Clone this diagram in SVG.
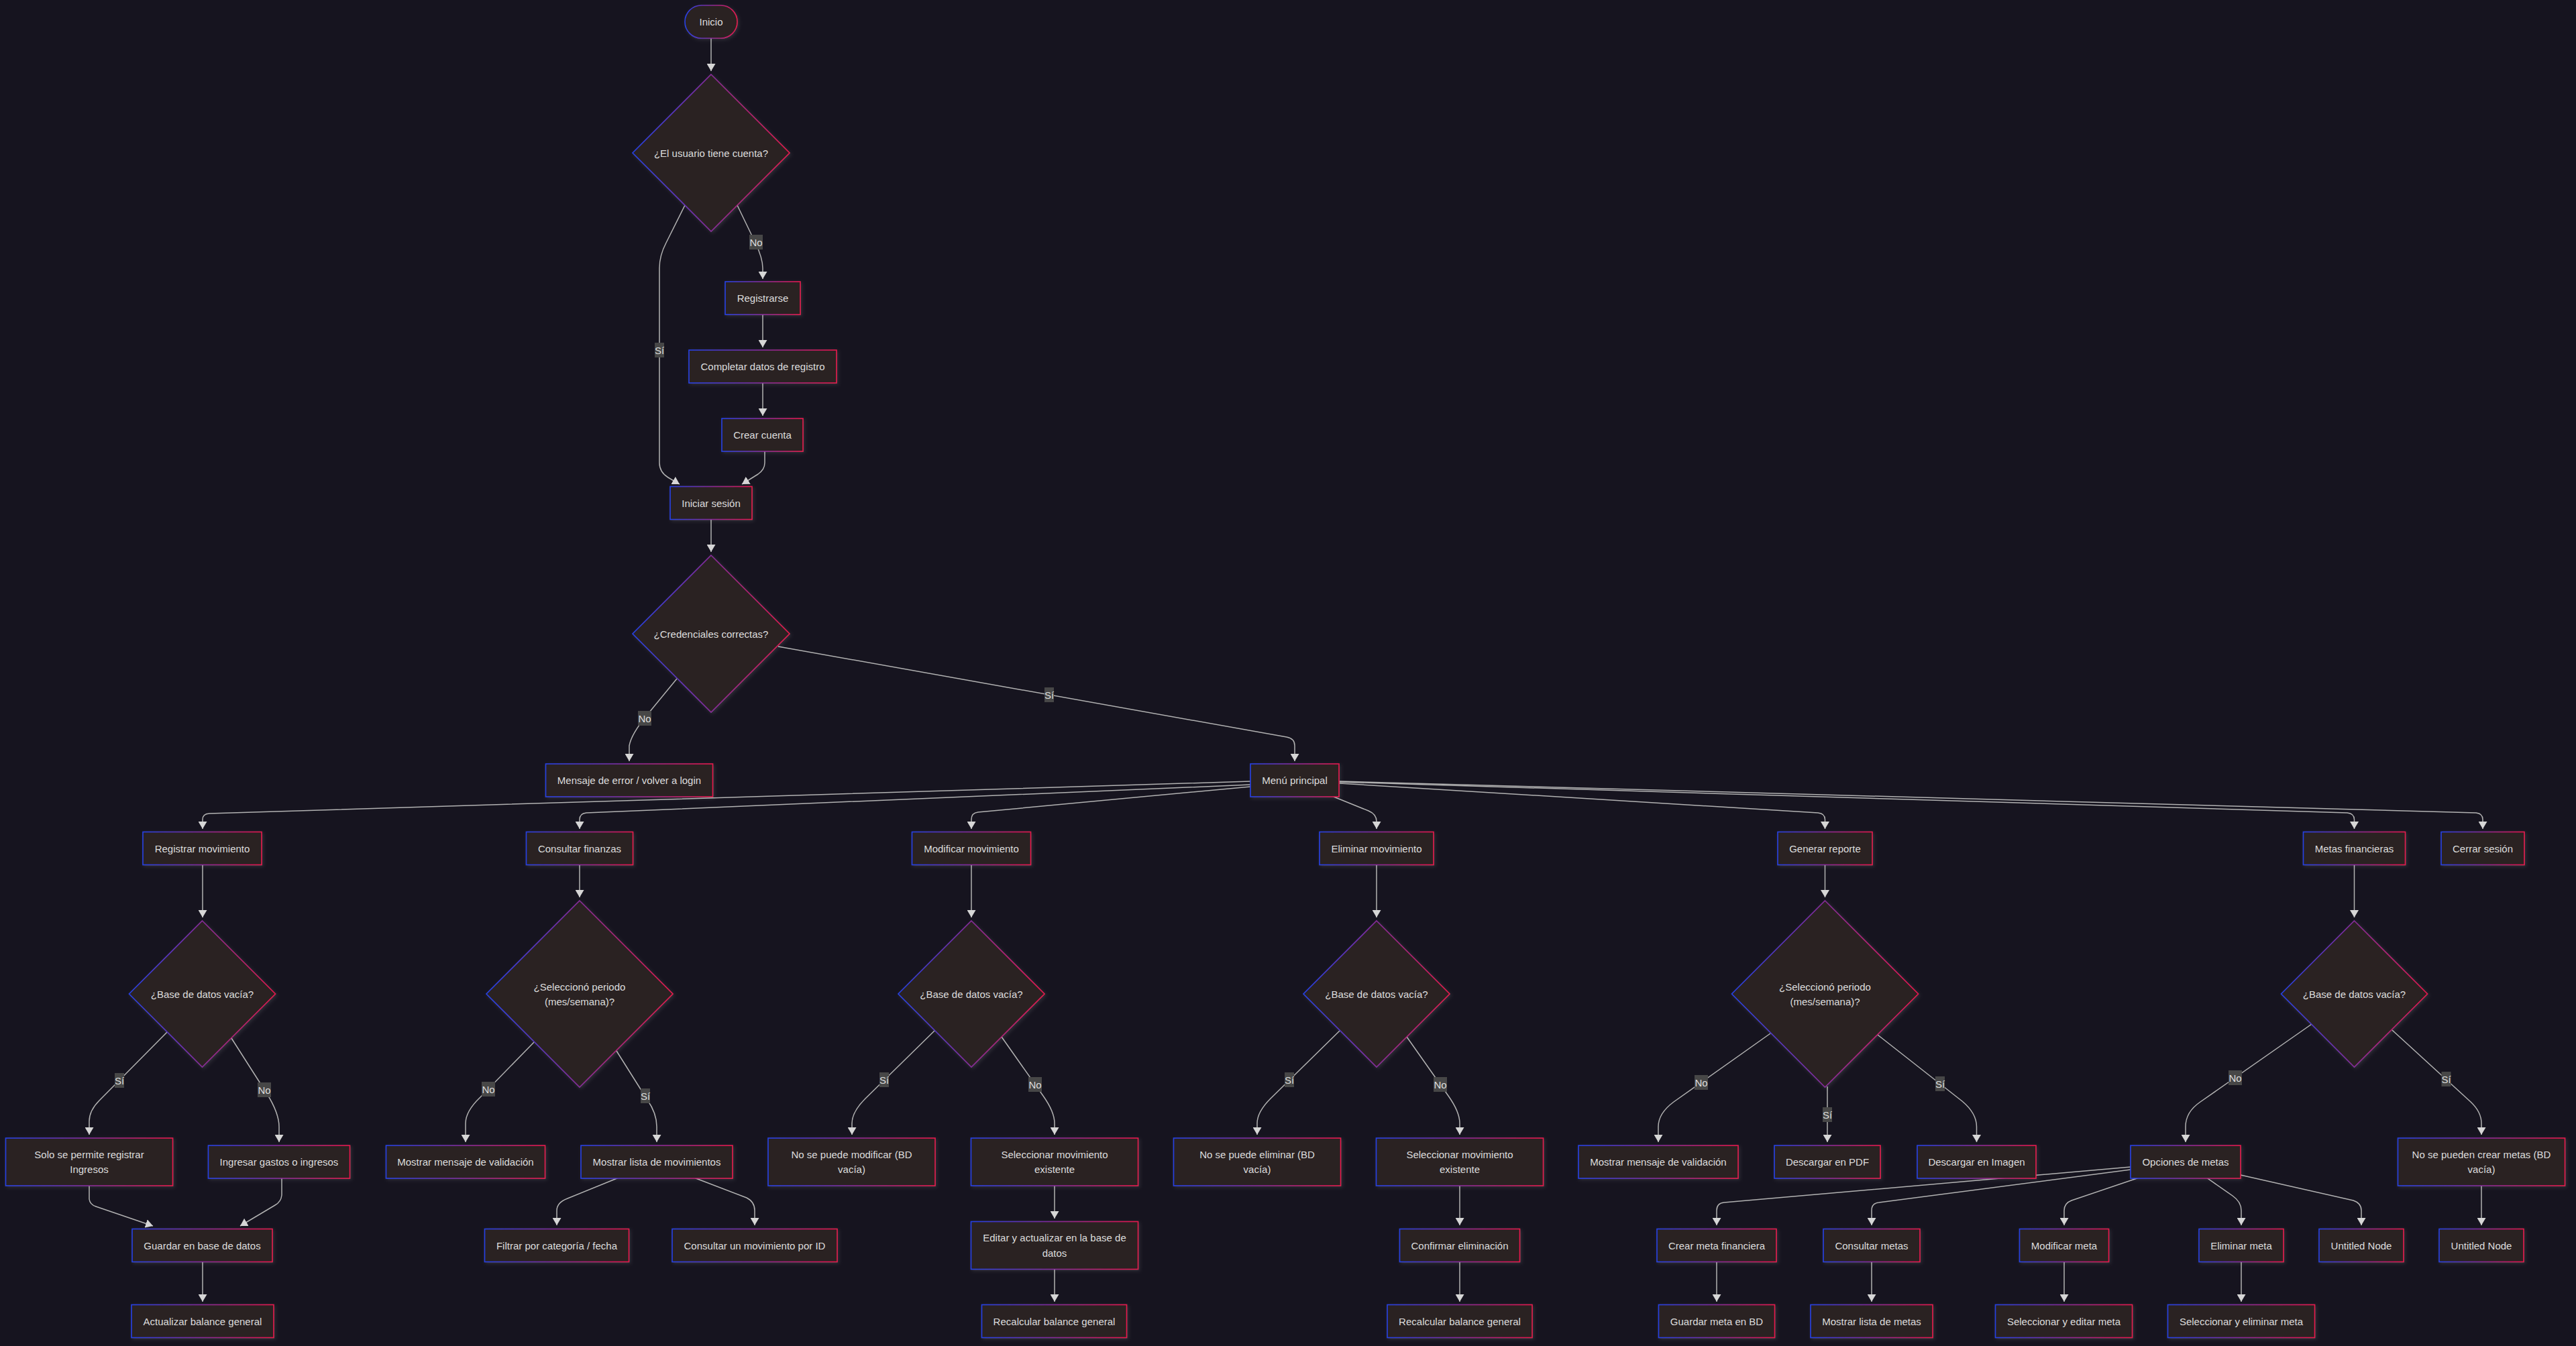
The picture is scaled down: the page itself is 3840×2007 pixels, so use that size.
<svg xmlns="http://www.w3.org/2000/svg" width="3840" height="2007" viewBox="0 0 3840 2007">
<defs>
<linearGradient id="g" x1="0" y1="0" x2="1" y2="0">
<stop offset="0" stop-color="#2340e6"/>
<stop offset="1" stop-color="#e8124c"/>
</linearGradient>
<filter id="sh" x="-10%" y="-10%" width="120%" height="130%">
<feDropShadow dx="2" dy="2" stdDeviation="2.5" flood-color="#ffffff" flood-opacity="0.10"/>
</filter>
<marker id="ah" viewBox="0 0 11 13" refX="11" refY="6.5" markerWidth="11" markerHeight="13" markerUnits="userSpaceOnUse" orient="auto">
<path d="M0,0 L11,6.5 L0,13 z" fill="#d6d6d6"/>
</marker>
<style>
.node rect,.node polygon{fill:#2c2120;stroke:url(#g);stroke-width:1.6;filter:url(#sh)}
.node text{font-family:"Liberation Sans",Arial,sans-serif;font-size:15px;fill:#dddddd;text-anchor:middle;dominant-baseline:central}
.edges path{fill:none;stroke:#b2b2b2;stroke-width:1.5;marker-end:url(#ah)}
.lbl rect{fill:#474747}
.lbl text{font-family:"Liberation Sans",Arial,sans-serif;font-size:15px;fill:#dddddd;text-anchor:middle;dominant-baseline:central}
</style>
</defs>
<rect x="0" y="0" width="3840" height="2007" fill="#16141f"/>

<g id="connectors" class="edges">
<path d="M1060,57 L1060,106"/>
<path d="M1021,306 L993,362 Q983,381 983,400 L983,690 Q983,704 996,712 L1013,722"/>
<path d="M1099,306 L1126,362 Q1137,385 1137,400 L1137,416"/>
<path d="M1137,469 L1137,518"/>
<path d="M1137,571 L1137,620"/>
<path d="M1140,673 L1140,690 Q1140,700 1130,707 L1106,722"/>
<path d="M1060,774 L1060,823"/>
<path d="M1009,1012 L963,1068 Q941,1095 938,1112 L938,1135"/>
<path d="M1160,964 L1918,1099 Q1930,1101 1930,1112 L1930,1135"/>
<path d="M1864,1165 L312,1213 Q302,1213.5 302,1222 L302,1236"/>
<path d="M1864,1170 L874,1212 Q864,1213 864,1222 L864,1236"/>
<path d="M1864,1173 L1458,1211 Q1448,1212 1448,1222 L1448,1236"/>
<path d="M1988,1188 L2040,1209 Q2052,1214 2052,1225 L2052,1236"/>
<path d="M1997,1168 L2710,1212 Q2720.5,1213 2720.5,1222 L2720.5,1236"/>
<path d="M1997,1166 L3499,1212 Q3509.5,1213 3509.5,1222 L3509.5,1236"/>
<path d="M1997,1165 L3691,1212 Q3701,1213 3701,1222 L3701,1236"/>
<path d="M302,1289 L302,1368"/>
<path d="M249,1539 L148,1641 Q133,1656 133,1672 L133,1692"/>
<path d="M345,1548 L398,1631 Q416,1660 416,1680 L416,1703"/>
<path d="M133,1768 L133,1788 Q134,1796 143,1799 L228,1828"/>
<path d="M420,1756.5 L420,1782 Q419,1792 410,1797 L358,1828"/>
<path d="M302,1881 L302,1941"/>
<path d="M864,1289.5 L864,1338"/>
<path d="M796,1554 L716,1636 Q694,1657 694,1675 L694,1703"/>
<path d="M919,1567 L965,1640 Q979,1660 979,1680 L979,1703"/>
<path d="M921,1756.5 L846,1787 Q830,1793 830,1805 L830,1827"/>
<path d="M1036,1756.5 L1113,1786 Q1125,1792 1125,1805 L1125,1827"/>
<path d="M1448,1289 L1448,1368"/>
<path d="M1393,1537 L1290,1638 Q1270,1658 1270,1675 L1270,1692"/>
<path d="M1493,1546 L1555,1634 Q1572,1658 1572,1675 L1572,1692"/>
<path d="M1572,1768 L1572,1817"/>
<path d="M1572,1892 L1572,1941"/>
<path d="M2052,1289 L2052,1368"/>
<path d="M1997,1537 L1894,1638 Q1874,1658 1874,1675 L1874,1692"/>
<path d="M2097,1546 L2159,1634 Q2176,1658 2176,1675 L2176,1692"/>
<path d="M2176,1768 L2176,1827"/>
<path d="M2176,1881 L2176,1941"/>
<path d="M2720.5,1289 L2720.5,1338"/>
<path d="M2639,1541 L2495,1643 Q2472,1660 2472,1680 L2472,1703"/>
<path d="M2724,1620 L2724,1703"/>
<path d="M2799,1543 L2925,1642 Q2946.5,1660 2946.5,1680 L2946.5,1703"/>
<path d="M3509.5,1289 L3509.5,1368"/>
<path d="M3446,1527 L3280,1643 Q3258,1658 3258,1680 L3258,1703"/>
<path d="M3566,1536 L3683,1643 Q3699,1658 3699,1675 L3699,1692"/>
<path d="M3176,1740 L2570,1793 Q2559,1794 2559,1805 L2559,1827"/>
<path d="M3176,1744 L2801,1793 Q2790,1794 2790,1805 L2790,1827"/>
<path d="M3187,1756.5 L3088,1790 Q3077,1794 3077,1805 L3077,1827"/>
<path d="M3290,1756.5 L3328,1783 Q3341,1792 3341,1805 L3341,1827"/>
<path d="M3340,1752 L3508,1790 Q3520,1794 3520,1805 L3520,1827"/>
<path d="M3699,1768 L3699,1827"/>
<path d="M2559,1881 L2559,1941"/>
<path d="M2790,1881 L2790,1941"/>
<path d="M3077,1881 L3077,1941"/>
<path d="M3341,1881 L3341,1941"/>
</g>

<g id="edge-labels">
<g class="lbl"><rect x="976" y="511" width="14" height="22"/><text x="983" y="522">Sí</text></g>
<g class="lbl"><rect x="1117" y="350" width="20" height="22"/><text x="1127" y="361">No</text></g>
<g class="lbl"><rect x="951" y="1060" width="20" height="22"/><text x="961" y="1071">No</text></g>
<g class="lbl"><rect x="1557" y="1025" width="14" height="22"/><text x="1564" y="1036">Sí</text></g>
<g class="lbl"><rect x="171" y="1600" width="14" height="22"/><text x="178" y="1611">Sí</text></g>
<g class="lbl"><rect x="384" y="1614" width="20" height="22"/><text x="394" y="1625">No</text></g>
<g class="lbl"><rect x="718" y="1613" width="20" height="22"/><text x="728" y="1624">No</text></g>
<g class="lbl"><rect x="955" y="1623" width="14" height="22"/><text x="962" y="1634">Sí</text></g>
<g class="lbl"><rect x="1311" y="1599" width="14" height="22"/><text x="1318" y="1610">Sí</text></g>
<g class="lbl"><rect x="1533" y="1606" width="20" height="22"/><text x="1543" y="1617">No</text></g>
<g class="lbl"><rect x="1915" y="1599" width="14" height="22"/><text x="1922" y="1610">Sí</text></g>
<g class="lbl"><rect x="2137" y="1606" width="20" height="22"/><text x="2147" y="1617">No</text></g>
<g class="lbl"><rect x="2526" y="1603" width="20" height="22"/><text x="2536" y="1614">No</text></g>
<g class="lbl"><rect x="2717" y="1651" width="14" height="22"/><text x="2724" y="1662">Sí</text></g>
<g class="lbl"><rect x="2885" y="1605" width="14" height="22"/><text x="2892" y="1616">Sí</text></g>
<g class="lbl"><rect x="3322" y="1596" width="20" height="22"/><text x="3332" y="1607">No</text></g>
<g class="lbl"><rect x="3639.5" y="1598" width="14" height="22"/><text x="3646.5" y="1609">Sí</text></g>
</g>

<g id="n-inicio" class="node"><rect x="1021" y="8" width="78" height="49" rx="24.5" ry="24.5"/><text x="1060" y="32.5">Inicio</text></g>
<g id="n-tiene-cuenta" class="node"><polygon points="1060,111 1177,228 1060,345 943,228"/><text x="1060" y="228">¿El usuario tiene cuenta?</text></g>
<g id="n-registrarse" class="node"><rect x="1081" y="420" width="112" height="49"/><text x="1137" y="444.5">Registrarse</text></g>
<g id="n-completar" class="node"><rect x="1027" y="522" width="220" height="49"/><text x="1137" y="546.5">Completar datos de registro</text></g>
<g id="n-crear-cuenta" class="node"><rect x="1076" y="624" width="121" height="49"/><text x="1136.5" y="648.5">Crear cuenta</text></g>
<g id="n-iniciar" class="node"><rect x="999" y="725.5" width="122" height="49"/><text x="1060" y="750">Iniciar sesión</text></g>
<g id="n-credenciales" class="node"><polygon points="1060,828 1177,945 1060,1062 943,945"/><text x="1060" y="945">¿Credenciales correctas?</text></g>
<g id="n-error" class="node"><rect x="813.5" y="1139" width="249" height="49"/><text x="938" y="1163.5">Mensaje de error / volver a login</text></g>
<g id="n-menu" class="node"><rect x="1864" y="1139" width="132" height="49"/><text x="1930" y="1163.5">Menú principal</text></g>

<g id="n-registrar" class="node"><rect x="213" y="1240.5" width="177" height="49"/><text x="301.5" y="1265">Registrar movimiento</text></g>
<g id="n-consultar" class="node"><rect x="784.5" y="1240.5" width="159" height="49"/><text x="864" y="1265">Consultar finanzas</text></g>
<g id="n-modificar" class="node"><rect x="1359.5" y="1240.5" width="177" height="49"/><text x="1448" y="1265">Modificar movimiento</text></g>
<g id="n-eliminar" class="node"><rect x="1967" y="1240.5" width="170" height="49"/><text x="2052" y="1265">Eliminar movimiento</text></g>
<g id="n-generar" class="node"><rect x="2650" y="1240.5" width="141" height="49"/><text x="2720.5" y="1265">Generar reporte</text></g>
<g id="n-metas" class="node"><rect x="3433.5" y="1240.5" width="152" height="49"/><text x="3509.5" y="1265">Metas financieras</text></g>
<g id="n-cerrar" class="node"><rect x="3639" y="1240.5" width="124" height="49"/><text x="3701" y="1265">Cerrar sesión</text></g>

<g id="n-d-registrar" class="node"><polygon points="301.5,1373 410.5,1482 301.5,1591 192.5,1482"/><text x="301.5" y="1482">¿Base de datos vacía?</text></g>
<g id="n-d-consultar" class="node"><polygon points="864,1343 1003,1482 864,1621 725,1482"/><text x="864" y="1471">¿Seleccionó periodo</text><text x="864" y="1493">(mes/semana)?</text></g>
<g id="n-d-modificar" class="node"><polygon points="1448,1373 1557,1482 1448,1591 1339,1482"/><text x="1448" y="1482">¿Base de datos vacía?</text></g>
<g id="n-d-eliminar" class="node"><polygon points="2052,1373 2161,1482 2052,1591 1943,1482"/><text x="2052" y="1482">¿Base de datos vacía?</text></g>
<g id="n-d-generar" class="node"><polygon points="2720.5,1343 2859.5,1482 2720.5,1621 2581.5,1482"/><text x="2720.5" y="1471">¿Seleccionó periodo</text><text x="2720.5" y="1493">(mes/semana)?</text></g>
<g id="n-d-metas" class="node"><polygon points="3509.5,1373 3618.5,1482 3509.5,1591 3400.5,1482"/><text x="3509.5" y="1482">¿Base de datos vacía?</text></g>

<g id="n-solo" class="node"><rect x="8.5" y="1697" width="249" height="71"/><text x="133" y="1721">Solo se permite registrar</text><text x="133" y="1743.5">Ingresos</text></g>
<g id="n-ingresar" class="node"><rect x="310.5" y="1708" width="211" height="49"/><text x="416" y="1732.5">Ingresar gastos o ingresos</text></g>
<g id="n-msg-val-1" class="node"><rect x="575.5" y="1708" width="237" height="49"/><text x="694" y="1732.5">Mostrar mensaje de validación</text></g>
<g id="n-lista-mov" class="node"><rect x="866" y="1708" width="226" height="49"/><text x="979" y="1732.5">Mostrar lista de movimientos</text></g>
<g id="n-no-mod" class="node"><rect x="1145" y="1697" width="249" height="71"/><text x="1269.5" y="1721">No se puede modificar (BD</text><text x="1269.5" y="1743.5">vacía)</text></g>
<g id="n-sel-mod" class="node"><rect x="1447.5" y="1697" width="249" height="71"/><text x="1572" y="1721">Seleccionar movimiento</text><text x="1572" y="1743.5">existente</text></g>
<g id="n-no-elim" class="node"><rect x="1749.5" y="1697" width="249" height="71"/><text x="1874" y="1721">No se puede eliminar (BD</text><text x="1874" y="1743.5">vacía)</text></g>
<g id="n-sel-elim" class="node"><rect x="2051.5" y="1697" width="249" height="71"/><text x="2176" y="1721">Seleccionar movimiento</text><text x="2176" y="1743.5">existente</text></g>
<g id="n-msg-val-2" class="node"><rect x="2353" y="1708" width="238" height="49"/><text x="2472" y="1732.5">Mostrar mensaje de validación</text></g>
<g id="n-pdf" class="node"><rect x="2645" y="1708" width="158" height="49"/><text x="2724" y="1732.5">Descargar en PDF</text></g>
<g id="n-imagen" class="node"><rect x="2858" y="1708" width="177" height="49"/><text x="2946.5" y="1732.5">Descargar en Imagen</text></g>
<g id="n-opciones" class="node"><rect x="3176" y="1708" width="164" height="49"/><text x="3258" y="1732.5">Opciones de metas</text></g>
<g id="n-no-metas" class="node"><rect x="3574.5" y="1697" width="249" height="71"/><text x="3699" y="1721">No se pueden crear metas (BD</text><text x="3699" y="1743.5">vacía)</text></g>

<g id="n-guardar" class="node"><rect x="197" y="1832.5" width="209" height="49"/><text x="301.5" y="1857">Guardar en base de datos</text></g>
<g id="n-filtrar" class="node"><rect x="722.5" y="1832.5" width="215" height="49"/><text x="830" y="1857">Filtrar por categoría / fecha</text></g>
<g id="n-consultar-id" class="node"><rect x="1002" y="1832.5" width="246" height="49"/><text x="1125" y="1857">Consultar un movimiento por ID</text></g>
<g id="n-editar" class="node"><rect x="1447.5" y="1821.5" width="249" height="71"/><text x="1572" y="1845.5">Editar y actualizar en la base de</text><text x="1572" y="1868">datos</text></g>
<g id="n-confirmar" class="node"><rect x="2086.5" y="1832.5" width="179" height="49"/><text x="2176" y="1857">Confirmar eliminación</text></g>
<g id="n-crear-meta" class="node"><rect x="2470" y="1832.5" width="178" height="49"/><text x="2559" y="1857">Crear meta financiera</text></g>
<g id="n-consultar-metas" class="node"><rect x="2718" y="1832.5" width="144" height="49"/><text x="2790" y="1857">Consultar metas</text></g>
<g id="n-modificar-meta" class="node"><rect x="3010.5" y="1832.5" width="133" height="49"/><text x="3077" y="1857">Modificar meta</text></g>
<g id="n-eliminar-meta" class="node"><rect x="3278" y="1832.5" width="126" height="49"/><text x="3341" y="1857">Eliminar meta</text></g>
<g id="n-untitled-1" class="node"><rect x="3457" y="1832.5" width="126" height="49"/><text x="3520" y="1857">Untitled Node</text></g>
<g id="n-untitled-2" class="node"><rect x="3636" y="1832.5" width="126" height="49"/><text x="3699" y="1857">Untitled Node</text></g>

<g id="n-actualizar" class="node"><rect x="196" y="1945.5" width="212" height="49"/><text x="302" y="1970">Actualizar balance general</text></g>
<g id="n-recalc-1" class="node"><rect x="1463.5" y="1945.5" width="216" height="49"/><text x="1571.5" y="1970">Recalcular balance general</text></g>
<g id="n-recalc-2" class="node"><rect x="2068" y="1945.5" width="216" height="49"/><text x="2176" y="1970">Recalcular balance general</text></g>
<g id="n-guardar-meta" class="node"><rect x="2472.5" y="1945.5" width="173" height="49"/><text x="2559" y="1970">Guardar meta en BD</text></g>
<g id="n-lista-metas" class="node"><rect x="2699" y="1945.5" width="182" height="49"/><text x="2790" y="1970">Mostrar lista de metas</text></g>
<g id="n-sel-editar-meta" class="node"><rect x="2974.5" y="1945.5" width="204" height="49"/><text x="3076.5" y="1970">Seleccionar y editar meta</text></g>
<g id="n-sel-eliminar-meta" class="node"><rect x="3231.5" y="1945.5" width="219" height="49"/><text x="3341" y="1970">Seleccionar y eliminar meta</text></g>
</svg>
